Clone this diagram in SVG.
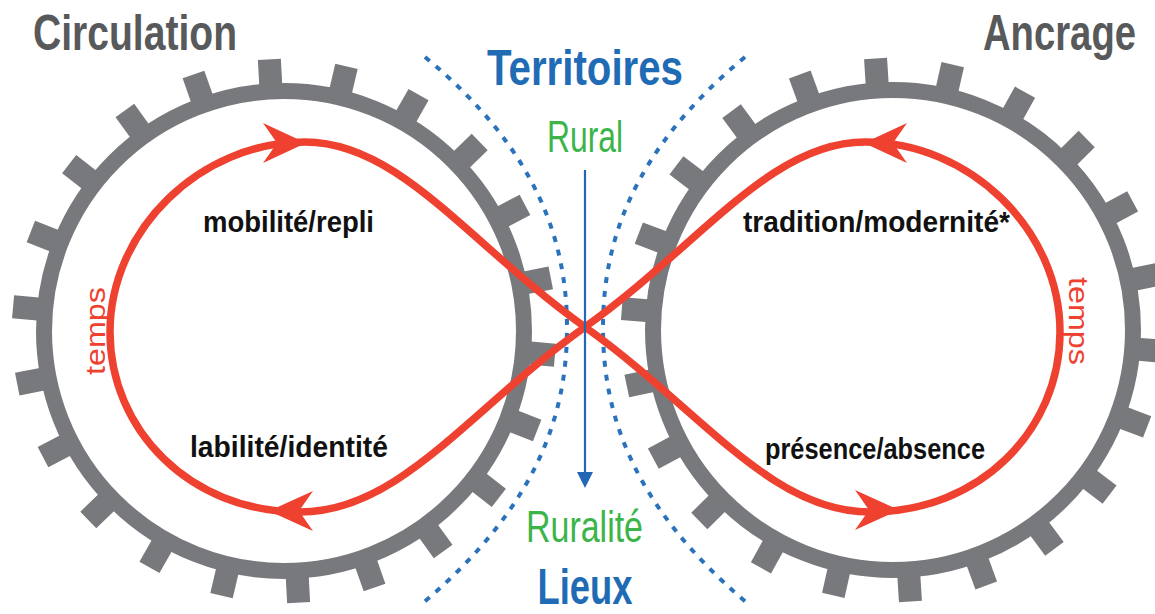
<svg xmlns="http://www.w3.org/2000/svg" xmlns:xlink="http://www.w3.org/1999/xlink" width="1155" height="614" viewBox="0 0 1155 614">
<style>
.ring{fill:none;stroke:#78797c;stroke-width:16}
.tooth{fill:#78797c}
.loop{fill:none;stroke:#ef4130;stroke-width:7.5;stroke-linejoin:round}
.head{fill:#ef4130}
.dots{fill:none;stroke:#2a72bb;stroke-width:4;stroke-dasharray:6 8}
.title{font-family:"Liberation Sans",Arial,sans-serif;font-weight:bold;font-size:50px;fill:#58595b}
.blue{fill:#1f6cb5}
.green{font-family:"Liberation Sans",Arial,sans-serif;font-size:45px;fill:#3bb54a}
.lab{font-family:"Liberation Sans",Arial,sans-serif;font-weight:bold;font-size:30px;fill:#111}
.temps{font-family:"Liberation Sans",Arial,sans-serif;font-size:27px;fill:#ef4130}
</style>
<defs>
<rect id="t" class="tooth" x="244" y="-11.5" width="28" height="23"/>
<g id="teeth">
<use xlink:href="#t"/>
<use xlink:href="#t" transform="rotate(16.364)"/>
<use xlink:href="#t" transform="rotate(32.727)"/>
<use xlink:href="#t" transform="rotate(49.091)"/>
<use xlink:href="#t" transform="rotate(65.455)"/>
<use xlink:href="#t" transform="rotate(81.818)"/>
<use xlink:href="#t" transform="rotate(98.182)"/>
<use xlink:href="#t" transform="rotate(114.545)"/>
<use xlink:href="#t" transform="rotate(130.909)"/>
<use xlink:href="#t" transform="rotate(147.273)"/>
<use xlink:href="#t" transform="rotate(163.636)"/>
<use xlink:href="#t" transform="rotate(180)"/>
<use xlink:href="#t" transform="rotate(196.364)"/>
<use xlink:href="#t" transform="rotate(212.727)"/>
<use xlink:href="#t" transform="rotate(229.091)"/>
<use xlink:href="#t" transform="rotate(245.455)"/>
<use xlink:href="#t" transform="rotate(261.818)"/>
<use xlink:href="#t" transform="rotate(278.182)"/>
<use xlink:href="#t" transform="rotate(294.545)"/>
<use xlink:href="#t" transform="rotate(310.909)"/>
<use xlink:href="#t" transform="rotate(327.273)"/>
<use xlink:href="#t" transform="rotate(343.636)"/>
</g>
</defs>

<g id="gear-circulation">
<circle class="ring" cx="284" cy="331" r="240"/>
<use xlink:href="#teeth" transform="translate(284,331) rotate(5.1)"/>
</g>
<g id="gear-ancrage">
<circle class="ring" cx="893" cy="330" r="240"/>
<use xlink:href="#teeth" transform="translate(893,330) rotate(4.5)"/>
</g>

<g id="boundaries">
<path class="dots" d="M425 57 C540 152 567 245 567 328 C567 411 540 504 423 603"/>
<path class="dots" d="M745 57 C630 152 603 245 603 328 C603 411 630 504 747 603"/>
</g>

<g id="connectors">
<path class="loop" d="M585 327 C470 245 400 142 305 142 C200 142 110 230 110 332 C110 430 190 512 300 512 C400 512 470 409 585 327 C700 245 770 142 865 142 C970 142 1060 230 1060 332 C1060 430 980 512 870 512 C770 512 700 409 585 327 Z"/>
<path class="head" d="M306 143 L263 123 L277 143 L263 163 Z"/>
<path class="head" d="M269 511 L313 491 L299 511 L313 531 Z"/>
<path class="head" d="M864 143 L907 123 L893 143 L907 163 Z"/>
<path class="head" d="M899 510 L855 490 L869 510 L855 530 Z"/>
<line x1="585" y1="170" x2="585" y2="474" stroke="#2368b5" stroke-width="2.2"/>
<path d="M577 472 L593 472 L585 488 Z" fill="#2368b5"/>
</g>

<g id="title-circulation"><text class="title" x="33" y="50" textLength="204" lengthAdjust="spacingAndGlyphs">Circulation</text></g>
<g id="title-ancrage"><text class="title" transform="translate(983,50) scale(0.765,1)" x="0" y="0">Ancrage</text></g>
<g id="territoires"><text class="title blue" x="487" y="85" textLength="196" lengthAdjust="spacingAndGlyphs">Territoires</text></g>
<g id="lieux"><text class="title blue" x="585" y="604" text-anchor="middle" font-size="45" textLength="95" lengthAdjust="spacingAndGlyphs">Lieux</text></g>
<g id="rural"><text class="green" x="547" y="152" textLength="76" lengthAdjust="spacingAndGlyphs">Rural</text></g>
<g id="ruralite"><text class="green" x="526" y="542" textLength="117" lengthAdjust="spacingAndGlyphs">Ruralité</text></g>

<g id="label-mobilite"><text class="lab" x="203" y="232" textLength="171" lengthAdjust="spacingAndGlyphs">mobilité/repli</text></g>
<g id="label-labilite"><text class="lab" x="190" y="457" textLength="198" lengthAdjust="spacingAndGlyphs">labilité/identité</text></g>
<g id="label-tradition"><text class="lab" x="743" y="232" textLength="267" lengthAdjust="spacingAndGlyphs">tradition/modernité*</text></g>
<g id="label-presence"><text class="lab" x="765" y="459" textLength="220" lengthAdjust="spacingAndGlyphs">présence/absence</text></g>

<g id="temps-left"><text class="temps" transform="translate(105,331) rotate(-90)" text-anchor="middle" textLength="88" lengthAdjust="spacingAndGlyphs">temps</text></g>
<g id="temps-right"><text class="temps" transform="translate(1069,321) rotate(90)" text-anchor="middle" textLength="88" lengthAdjust="spacingAndGlyphs">temps</text></g>
</svg>
